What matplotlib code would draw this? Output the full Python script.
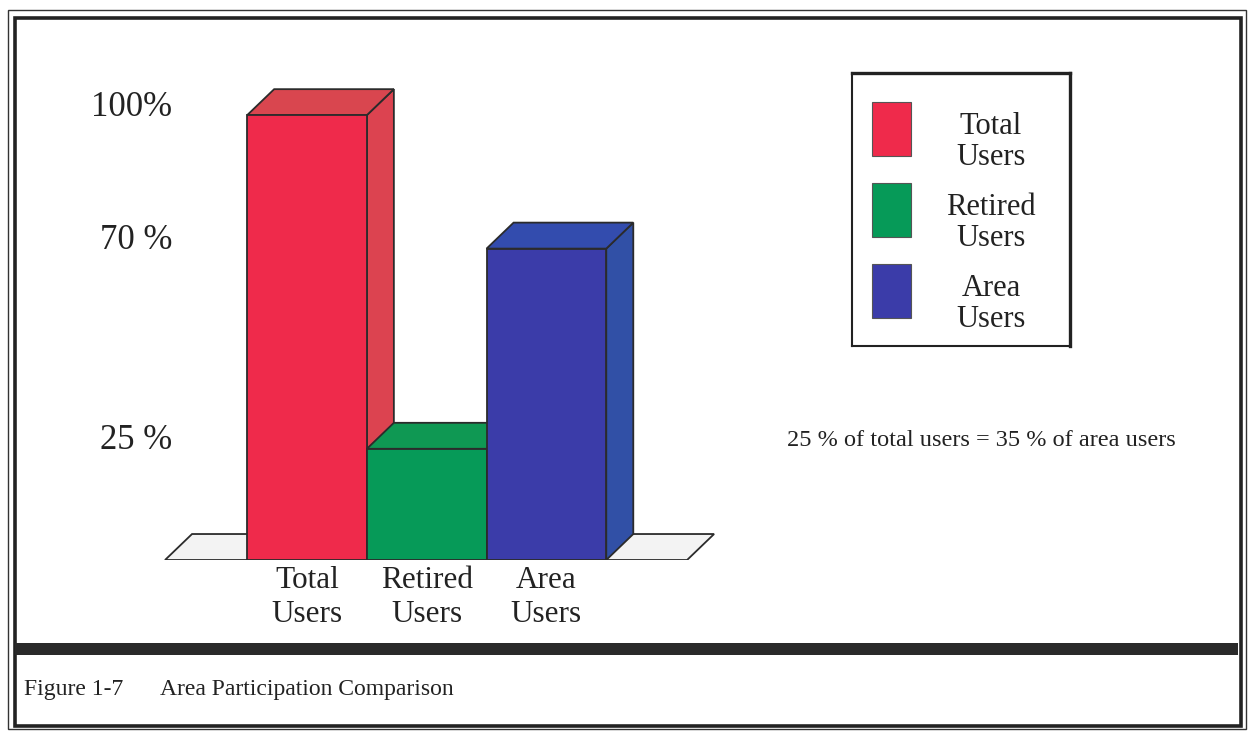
import matplotlib
matplotlib.use('Agg')
import matplotlib.pyplot as plt
from matplotlib.patches import Polygon, Rectangle
from matplotlib.transforms import offset_copy

# ---------------- data ----------------
categories = ['Total\nUsers', 'Retired\nUsers', 'Area\nUsers']
values = [100, 25, 70]
ytick_values = [100, 70, 25]
ytick_labels = ['100%', '70 %', '25 %']
legend_labels = ['Total\nUsers', 'Retired\nUsers', 'Area\nUsers']
front_colors = ['#ef2a4b', '#069a58', '#3b3ca9']
top_colors = ['#d9464f', '#0f9853', '#334cae']
side_colors = ['#dc4350', '#0c9450', '#3150a6']
note = '25 % of total users = 35 % of area users'
caption_num = 'Figure 1-7'
caption_title = 'Area Participation Comparison'

# ---------------- layout ----------------
W, H = 1249, 732
plt.rcParams['font.family'] = ['Liberation Serif', 'DejaVu Serif']
fig = plt.figure(figsize=(W / 100, H / 100), dpi=100)
fig.patch.set_facecolor('white')


def fx(px):
    return px / W


def fy(py):
    return 1 - py / H


EC = '#2b2b2b'
LW = 1.3
DX, DY = 0.2256, 5.84        # 3-D depth offset (data units)
FLOOR_L, FLOOR_R = -1.186, 3.175

ax = fig.add_axes([fx(160), fy(560), (720 - 160) / W, (560 - 80) / H])
ax.set_xlim(-1.228, 3.450)
ax.set_ylim(0, 107.9)
ax.set_facecolor('none')
for s in ax.spines.values():
    s.set_visible(False)
ax.tick_params(length=0)
ax.set_yticks([])

# floor
floor = Polygon([(FLOOR_L, 0), (FLOOR_L + DX, DY), (FLOOR_R + DX, DY), (FLOOR_R, 0)],
                closed=True, fc='#f3f3f3', ec=EC, lw=LW, zorder=1)
ax.add_patch(floor)

# bars with 3-D faces
for i, (v, fc, tc, sc) in enumerate(zip(values, front_colors, top_colors, side_colors)):
    z = 3 + i * 3
    x0, x1 = i - 0.5, i + 0.5
    side = Polygon([(x1, 0), (x1, v), (x1 + DX, v + DY), (x1 + DX, DY)],
                   closed=True, fc=sc, ec=EC, lw=LW, zorder=z)
    top = Polygon([(x0, v), (x0 + DX, v + DY), (x1 + DX, v + DY), (x1, v)],
                  closed=True, fc=tc, ec=EC, lw=LW, zorder=z + 1)
    ax.add_patch(side)
    ax.add_patch(top)
    ax.bar(i, v, width=1.0, color=fc, edgecolor=EC, linewidth=LW, zorder=z + 2)

ax.set_xticks(range(len(categories)), categories)
for lab in ax.get_xticklabels():
    lab.set_fontsize(22.5)
    lab.set_linespacing(1.2)
    lab.set_color('#222222')
ax.tick_params(axis='x', pad=4.5)

# y labels (text, slightly above their values)
ytrans = offset_copy(ax.get_yaxis_transform(), fig=fig, x=0, y=8, units='dots')
for yv, yl in zip(ytick_values, ytick_labels):
    ax.text((172 - 160) / 560, yv, yl, transform=ytrans, ha='right', va='center',
            fontsize=25, color='#222222')

# legend
lax = fig.add_axes([fx(852), fy(346), 218 / W, 273 / H])
lax.set_xlim(0, 218)
lax.set_ylim(273, 0)
lax.set_xticks([])
lax.set_yticks([])
for k, s in lax.spines.items():
    s.set_color('#222222')
    s.set_linewidth(2.4 if k in ('top', 'right') else 1.5)
for i, (lab, fc) in enumerate(zip(legend_labels, front_colors)):
    y0 = 29 + i * 81
    lax.add_patch(Rectangle((20, y0), 39, 54, fc=fc, ec='#555555', lw=0.8))
    lax.text(139, y0 + 40, lab, ha='center', va='center', fontsize=22,
             linespacing=1.05, color='#222222')

# note
fig.text(fx(981), fy(440), note, ha='center', va='center', fontsize=17.5, color='#222222')

# borders
fig.add_artist(Rectangle((fx(8), fy(729)), fx(1246) - fx(8), fy(10) - fy(729),
                         transform=fig.transFigure, fill=False, lw=1.0, ec='#333333'))
fig.add_artist(Rectangle((fx(15), fy(726)), fx(1241) - fx(15), fy(18) - fy(726),
                         transform=fig.transFigure, fill=False, lw=2.6, ec='#222222'))
fig.add_artist(Rectangle((fx(15), fy(655)), fx(1238) - fx(15), fy(643) - fy(655),
                         transform=fig.transFigure, fc='#2a2a2a', ec='none'))

# caption
fig.text(fx(24), fy(690), caption_num, ha='left', va='center', fontsize=17, color='#222222')
fig.text(fx(160), fy(690), caption_title, ha='left', va='center', fontsize=17, color='#222222')

fig.savefig('out.png', dpi=100)
